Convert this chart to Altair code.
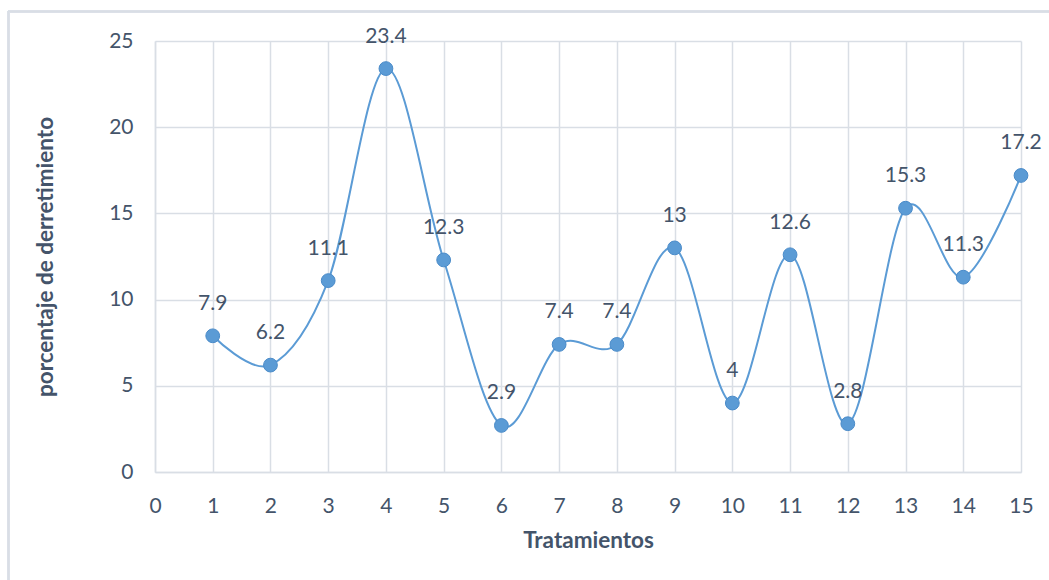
import altair as alt
import pandas as pd

tratamientos = list(range(1, 16))
valores = [7.9, 6.2, 11.1, 23.4, 12.3, 2.7, 7.4, 7.4, 13.0, 4.0, 12.6, 2.8, 15.3, 11.3, 17.2]
etiquetas = ["7.9", "6.2", "11.1", "23.4", "12.3", "2.9", "7.4", "7.4", "13", "4", "12.6", "2.8", "15.3", "11.3", "17.2"]
x_ticks = list(range(0, 16))
y_ticks = [0, 5, 10, 15, 20, 25]

df = pd.DataFrame({"t": tratamientos, "v": valores, "lab": etiquetas})

TEXT = "#44546A"
GRID = "#D9DEE5"
BLUE = "#5B9BD5"
FONT = "Lato"

x = alt.X("t:Q", scale=alt.Scale(domain=[0, 15], nice=False),
          axis=alt.Axis(title="Tratamientos", values=x_ticks, format="d", labelOverlap=False, labelFlush=False,
                        grid=True, gridColor=GRID, gridWidth=1.5, domainColor=GRID, domainWidth=1.5,
                        ticks=False, labelPadding=23, labelFontSize=21, labelColor=TEXT, labelFont=FONT,
                        titleFontSize=22.5, titleColor=TEXT, titleFont=FONT, titleFontWeight="bold",
                        titlePadding=13))
y = alt.Y("v:Q", scale=alt.Scale(domain=[0, 25], nice=False),
          axis=alt.Axis(title="porcentaje de derretimiento", values=y_ticks, format="d", labelOverlap=False,
                        labelFlush=False,
                        grid=True, gridColor=GRID, gridWidth=1.5, domainColor=GRID, domainWidth=1.5,
                        ticks=False, labelPadding=22, labelFontSize=21, labelColor=TEXT, labelFont=FONT,
                        titleFontSize=22.5, titleColor=TEXT, titleFont=FONT, titleFontWeight="bold",
                        titlePadding=51))

base = alt.Chart(df)
line = base.mark_line(interpolate="cardinal", tension=0, color=BLUE, strokeWidth=2).encode(x=x, y=y)
pts = base.mark_point(filled=True, size=190, color=BLUE, opacity=1, stroke="#4A8BC9", strokeWidth=1).encode(x="t:Q", y="v:Q")
txt = base.mark_text(dy=-32, fontSize=21, color=TEXT, font=FONT).encode(x="t:Q", y="v:Q", text="lab:N")

border_top = alt.Chart(df).mark_rule(color=GRID, strokeWidth=1.5).encode(
    x=alt.value(-146.5), x2=alt.value(1000), y=alt.value(-29.5))
border_left = alt.Chart(df).mark_rule(color=GRID, strokeWidth=1.5).encode(
    x=alt.value(-146.5), y=alt.value(-29.5), y2=alt.value(600))

chart = alt.layer(border_top, border_left, line, pts, txt).properties(
    width=866, height=431,
    autosize=alt.AutoSizeParams(type="none"),
    padding={"left": 155, "top": 41, "right": 28, "bottom": 108},
    background="white",
).configure_view(stroke=None)

chart.save("out.html", embed_options={"renderer": "svg", "actions": False})
